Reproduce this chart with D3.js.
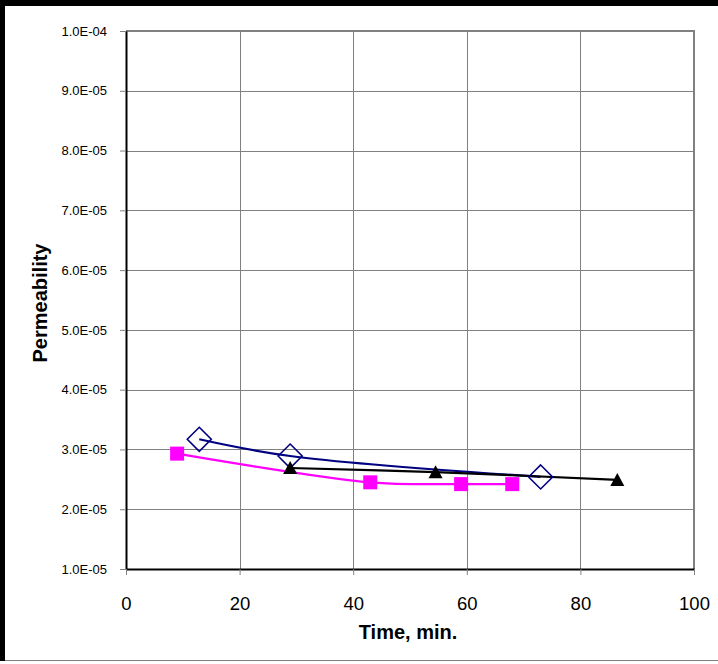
<!DOCTYPE html>
<html>
<head>
<meta charset="utf-8">
<script src="https://cdn.jsdelivr.net/npm/d3@7"></script>
<style>
  html, body { margin: 0; padding: 0; background: #fff; }
  svg { display: block; }
  text { font-family: Arial, "Liberation Sans", sans-serif; }
</style>
</head>
<body>
<svg id="chart" width="718" height="664"></svg>
<script>
// Permeability over time for three runs
const diamondTime = [12.9, 28.9, 73.0];
const diamondPerm = [3.17e-5, 2.89e-5, 2.54e-5];

const squareTime = [9.0, 43.0, 59.0, 68.0];
const squarePerm = [2.93e-5, 2.45e-5, 2.42e-5, 2.42e-5];

const triangleTime = [28.9, 54.5, 86.5];
const trianglePerm = [2.69e-5, 2.62e-5, 2.49e-5];

const xTicks = [0, 20, 40, 60, 80, 100];
const yTicks = [1e-5, 2e-5, 3e-5, 4e-5, 5e-5, 6e-5, 7e-5, 8e-5, 9e-5, 1e-4];
const yTickLabels = ["1.0E-05", "2.0E-05", "3.0E-05", "4.0E-05", "5.0E-05",
                     "6.0E-05", "7.0E-05", "8.0E-05", "9.0E-05", "1.0E-04"];

const svg = d3.select("#chart");
const plotLeft = 126, plotRight = 694, plotTop = 31, plotBottom = 569;

const x = d3.scaleLinear().domain([0, 100]).range([plotLeft, plotRight]);
const y = d3.scaleLinear().domain([1e-5, 1e-4]).range([plotBottom, plotTop]);

// outer frame
svg.append("rect").attr("x", 0).attr("y", 0).attr("width", 718).attr("height", 6).attr("fill", "#000");
svg.append("rect").attr("x", 0).attr("y", 0).attr("width", 5).attr("height", 661).attr("fill", "#000");
svg.append("line").attr("x1", 5).attr("x2", 718).attr("y1", 660.5).attr("y2", 660.5)
  .attr("stroke", "#808080").attr("stroke-width", 1);

// gridlines
const grid = svg.append("g");
grid.selectAll("line.h").data(yTicks.slice(1, -1)).enter().append("line")
  .attr("x1", plotLeft).attr("x2", plotRight)
  .attr("y1", d => Math.round(y(d)) + 0.5).attr("y2", d => Math.round(y(d)) + 0.5)
  .attr("stroke", "#808080").attr("stroke-width", 1);
grid.selectAll("line.v").data(xTicks.slice(1, -1)).enter().append("line")
  .attr("y1", plotTop).attr("y2", plotBottom)
  .attr("x1", d => Math.round(x(d)) + 0.5).attr("x2", d => Math.round(x(d)) + 0.5)
  .attr("stroke", "#808080").attr("stroke-width", 1);

// plot frame: gray top/right, black left/bottom
svg.append("line").attr("x1", plotLeft).attr("x2", plotRight + 1).attr("y1", plotTop).attr("y2", plotTop)
  .attr("stroke", "#808080").attr("stroke-width", 2);
svg.append("line").attr("x1", plotRight).attr("x2", plotRight).attr("y1", plotTop).attr("y2", plotBottom)
  .attr("stroke", "#808080").attr("stroke-width", 2);

// axes
const yAxis = d3.axisLeft(y).tickValues(yTicks).tickFormat((d, i) => yTickLabels[i])
  .tickSize(6).tickSizeOuter(0);
const gy = svg.append("g").attr("transform", `translate(${plotLeft},0)`).call(yAxis);
gy.select(".domain").attr("stroke", "#000").attr("stroke-width", 2);
gy.selectAll(".tick line").attr("stroke", "#808080");
gy.selectAll(".tick text").attr("font-size", 13).attr("fill", "#000")
  .attr("font-family", "Arial, 'Liberation Sans', sans-serif").attr("x", -19);

const xAxis = d3.axisBottom(x).tickValues(xTicks).tickFormat(d3.format("d"))
  .tickSize(6).tickSizeOuter(0);
const gx = svg.append("g").attr("transform", `translate(0,${plotBottom})`).call(xAxis);
gx.select(".domain").attr("stroke", "#000").attr("stroke-width", 2);
gx.selectAll(".tick line").attr("stroke", "#808080");
gx.selectAll(".tick text").attr("font-size", 18.5).attr("fill", "#000")
  .attr("font-family", "Arial, 'Liberation Sans', sans-serif").attr("dy", 0).attr("y", 41);

// axis titles
svg.append("text").attr("x", 408).attr("y", 639).attr("text-anchor", "middle")
  .attr("font-size", 20).attr("font-weight", "bold").text("Time, min.");
svg.append("text").attr("transform", "translate(47,303) rotate(-90)").attr("text-anchor", "middle")
  .attr("font-size", 20).attr("font-weight", "bold").text("Permeability");

// series
const series = [
  { t: squareTime, p: squarePerm, color: "#ff00ff", shape: "square" },
  { t: diamondTime, p: diamondPerm, color: "#000080", shape: "diamond" },
  { t: triangleTime, p: trianglePerm, color: "#000000", shape: "triangle" }
];

const line = d3.line().x(d => x(d[0])).y(d => y(d[1])).curve(d3.curveCatmullRom.alpha(0.5));

series.forEach(s => {
  const pts = s.t.map((t, i) => [t, s.p[i]]);
  svg.append("path").datum(pts).attr("d", line)
    .attr("fill", "none").attr("stroke", s.color).attr("stroke-width", 2.2);
});

series.forEach(s => {
  const pts = s.t.map((t, i) => [t, s.p[i]]);
  const g = svg.append("g");
  if (s.shape === "square") {
    g.selectAll("rect").data(pts).enter().append("rect")
      .attr("x", d => x(d[0]) - 7).attr("y", d => y(d[1]) - 7)
      .attr("width", 14).attr("height", 14).attr("fill", s.color);
  } else if (s.shape === "diamond") {
    g.selectAll("path").data(pts).enter().append("path")
      .attr("d", d => {
        const cx = x(d[0]), cy = y(d[1]), r = 12;
        return `M${cx},${cy - r}L${cx + r},${cy}L${cx},${cy + r}L${cx - r},${cy}Z`;
      })
      .attr("fill", "none").attr("stroke", s.color).attr("stroke-width", 1.6);
  } else {
    g.selectAll("path").data(pts).enter().append("path")
      .attr("d", d => {
        const cx = x(d[0]), cy = y(d[1]);
        return `M${cx},${cy - 7}L${cx + 7},${cy + 6}L${cx - 7},${cy + 6}Z`;
      })
      .attr("fill", s.color);
  }
});
</script>
</body>
</html>
